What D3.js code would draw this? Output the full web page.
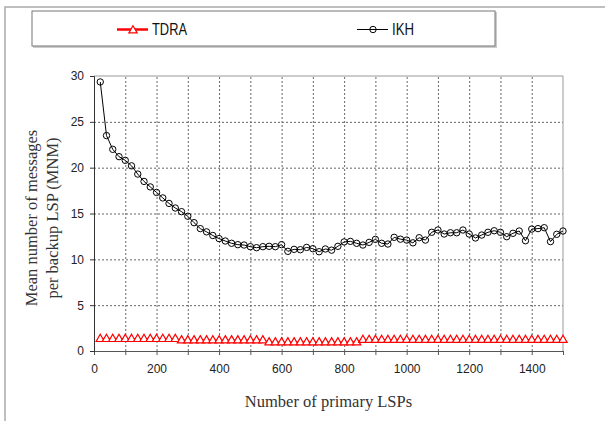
<!DOCTYPE html>
<html>
<head>
<meta charset="utf-8">
<script src="https://cdn.jsdelivr.net/npm/d3@7"></script>
<style>
	body { margin: 0; background: #fff; }
	.tick text { font-family: "Liberation Sans", Arial, sans-serif; font-size: 12px; fill: #222; }
	.grid line { stroke: #666; stroke-dasharray: 2,2; }
	.grid path { display: none; }
	.axis-title { font-family: "Liberation Serif", "Times New Roman", serif; font-size: 16.5px; fill: #333; }
	.legend-label { font-family: "Liberation Sans Narrow", "Liberation Sans", Arial, sans-serif; font-size: 16px; fill: #111; }
</style>
</head>
<body>
<div id="chart"></div>
<script>
// number of primary LSPs (same x for both series)
const lspCounts = [20, 40, 60, 80, 100, 120, 140, 160, 180, 200, 220, 240, 260, 280, 300,
	320, 340, 360, 380, 400, 420, 440, 460, 480, 500, 520, 540, 560, 580, 600,
	620, 640, 660, 680, 700, 720, 740, 760, 780, 800, 820, 840, 860, 880, 900,
	920, 940, 960, 980, 1000, 1020, 1040, 1060, 1080, 1100, 1120, 1140, 1160, 1180, 1200,
	1220, 1240, 1260, 1280, 1300, 1320, 1340, 1360, 1380, 1400, 1420, 1440, 1460, 1480, 1500];

const ikhValues = [29.35, 23.5, 22.0, 21.2, 20.8, 20.2, 19.3, 18.5, 17.9, 17.3, 16.7, 16.1, 15.6, 15.2, 14.7,
	14.0, 13.35, 13.0, 12.6, 12.26, 12.0, 11.75, 11.6, 11.56, 11.38, 11.27, 11.38, 11.42, 11.38, 11.6,
	10.87, 11.09, 11.05, 11.3, 11.16, 10.83, 11.13, 11.0, 11.42, 11.9, 11.96, 11.75, 11.56, 11.85, 12.18,
	11.75, 11.67, 12.4, 12.2, 12.1, 11.8, 12.36, 12.1, 12.95, 13.2, 12.76, 12.9, 12.9, 13.2, 12.76,
	12.33, 12.65, 12.95, 13.12, 12.95, 12.47, 12.84, 13.09, 12.03, 13.3, 13.35, 13.45, 11.93, 12.73, 13.09];

const tdraValues = [1.3, 1.3, 1.3, 1.3, 1.3, 1.3, 1.3, 1.3, 1.3, 1.3, 1.3, 1.3, 1.3, 1.15, 1.15,
	1.15, 1.15, 1.15, 1.15, 1.15, 1.15, 1.15, 1.15, 1.15, 1.15, 1.15, 1.15, 0.93, 0.93, 0.93,
	0.93, 0.93, 0.93, 0.93, 0.93, 0.93, 0.93, 0.93, 0.93, 0.93, 0.93, 0.93, 1.2, 1.2, 1.2,
	1.2, 1.2, 1.2, 1.2, 1.2, 1.2, 1.2, 1.2, 1.2, 1.2, 1.2, 1.2, 1.2, 1.2, 1.2,
	1.2, 1.2, 1.2, 1.2, 1.2, 1.2, 1.2, 1.2, 1.2, 1.2, 1.2, 1.2, 1.2, 1.2, 1.2];

const xTicks = [0, 200, 400, 600, 800, 1000, 1200, 1400];
const xGridTicks = [100, 200, 300, 400, 500, 600, 700, 800, 900, 1000, 1100, 1200, 1300, 1400];
const yTicks = [0, 5, 10, 15, 20, 25, 30];

const seriesNames = ['TDRA', 'IKH'];

const width = 605, height = 421;
const plot = { left: 94, right: 563, top: 76, bottom: 351 };

const svg = d3.select('#chart').append('svg')
	.attr('width', width)
	.attr('height', height);

// outer frame (top + left edges visible)
svg.append('path')
	.attr('d', `M5,${height} V7 H${width}`)
	.attr('fill', 'none')
	.attr('stroke', '#aaa')
	.attr('stroke-width', 1.5);

const x = d3.scaleLinear().domain([0, 1500]).range([plot.left, plot.right]);
const y = d3.scaleLinear().domain([0, 30]).range([plot.bottom, plot.top]);

// grid lines
svg.append('g')
	.attr('class', 'grid')
	.attr('transform', `translate(0,${plot.bottom})`)
	.call(d3.axisBottom(x).tickValues(xGridTicks).tickSize(-(plot.bottom - plot.top)).tickFormat(''));

svg.append('g')
	.attr('class', 'grid')
	.attr('transform', `translate(${plot.left},0)`)
	.call(d3.axisLeft(y).tickValues(yTicks.slice(1, -1)).tickSize(-(plot.right - plot.left)).tickFormat(''));

// top and right border of plot area
svg.append('path')
	.attr('d', `M${plot.left},${plot.top} H${plot.right} V${plot.bottom}`)
	.attr('fill', 'none')
	.attr('stroke', '#999');

// axes
const xAxis = svg.append('g')
	.attr('transform', `translate(0,${plot.bottom})`)
	.call(d3.axisBottom(x).tickValues(xGridTicks.concat([0, 1500])).tickSizeOuter(0).tickSize(4)
		.tickFormat(d => xTicks.includes(d) ? d : '').tickPadding(9));
const yAxis = svg.append('g')
	.attr('transform', `translate(${plot.left},0)`)
	.call(d3.axisLeft(y).tickValues(yTicks).tickSizeOuter(0).tickSize(4).tickPadding(6));
xAxis.selectAll('path, line').attr('stroke', '#555');
yAxis.selectAll('path, line').attr('stroke', '#333');

// axis titles
svg.append('text')
	.attr('class', 'axis-title')
	.attr('text-anchor', 'middle')
	.attr('x', (plot.left + plot.right) / 2)
	.attr('y', 407)
	.text('Number of primary LSPs');

const yTitle = svg.append('text')
	.attr('class', 'axis-title')
	.attr('text-anchor', 'middle')
	.attr('transform', 'translate(37,218) rotate(-90)');
yTitle.append('tspan').attr('x', 0).attr('y', 0).text('Mean number of messages');
yTitle.append('tspan').attr('x', 0).attr('y', 21).text('per backup LSP (MNM)');

const line = d3.line()
	.x(d => x(d[0]))
	.y(d => y(d[1]));

const tdraData = lspCounts.map((c, i) => [c, tdraValues[i]]);
const ikhData = lspCounts.map((c, i) => [c, ikhValues[i]]);

const triangle = d3.symbol().type(d3.symbolTriangle).size(30);

// TDRA
svg.append('path')
	.datum(tdraData)
	.attr('d', line)
	.attr('fill', 'none')
	.attr('stroke', '#ff0000')
	.attr('stroke-width', 2);
svg.append('g').selectAll('path')
	.data(tdraData)
	.join('path')
	.attr('d', triangle)
	.attr('transform', d => `translate(${x(d[0])},${y(d[1])})`)
	.attr('fill', '#fff')
	.attr('stroke', '#ff0000')
	.attr('stroke-width', 1.2);

// IKH
svg.append('path')
	.datum(ikhData)
	.attr('d', line)
	.attr('fill', 'none')
	.attr('stroke', '#000')
	.attr('stroke-width', 1);
svg.append('g').selectAll('circle')
	.data(ikhData)
	.join('circle')
	.attr('cx', d => x(d[0]))
	.attr('cy', d => y(d[1]))
	.attr('r', 3.2)
	.attr('fill', 'none')
	.attr('stroke', '#000')
	.attr('stroke-width', 1);

// legend
const legend = svg.append('g').attr('class', 'legend');
legend.append('rect')
	.attr('x', 33).attr('y', 12)
	.attr('width', 464).attr('height', 36)
	.attr('fill', '#ccc');
legend.append('rect')
	.attr('x', 32).attr('y', 11)
	.attr('width', 463).attr('height', 35)
	.attr('fill', '#fff')
	.attr('stroke', '#777');

const legendItems = [
	{ name: seriesNames[0], x0: 117, color: '#ff0000', width: 2.5, textLen: 35 },
	{ name: seriesNames[1], x0: 357, color: '#000', width: 1, textLen: 22 }
];
legendItems.forEach(item => {
	legend.append('line')
		.attr('x1', item.x0).attr('x2', item.x0 + 31)
		.attr('y1', 29.5).attr('y2', 29.5)
		.attr('stroke', item.color)
		.attr('stroke-width', item.width);
	legend.append('text')
		.attr('class', 'legend-label')
		.attr('x', item.x0 + 35)
		.attr('y', 34.5)
		.attr('textLength', item.textLen)
		.attr('lengthAdjust', 'spacingAndGlyphs')
		.text(item.name);
});
legend.append('path')
	.attr('d', triangle)
	.attr('transform', 'translate(133,30.5)')
	.attr('fill', '#fff')
	.attr('stroke', '#ff0000')
	.attr('stroke-width', 1.2);
legend.append('circle')
	.attr('cx', 373).attr('cy', 29.5).attr('r', 3.2)
	.attr('fill', 'none')
	.attr('stroke', '#000');
</script>
</body>
</html>
